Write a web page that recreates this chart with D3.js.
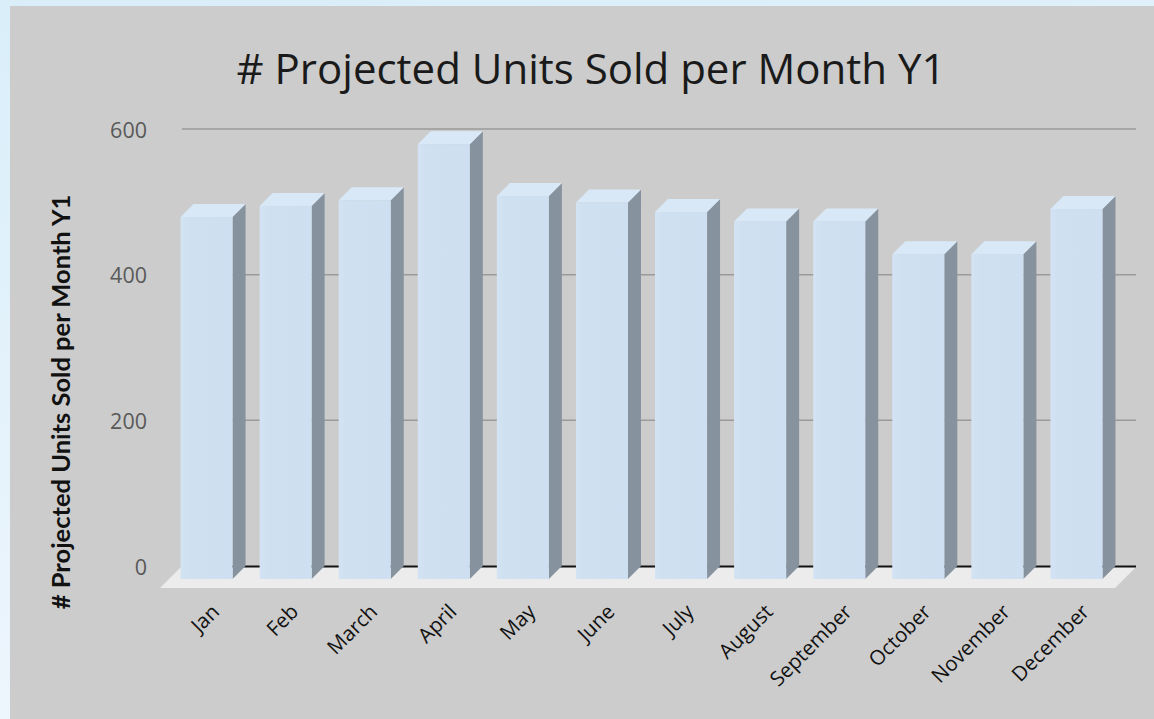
<!DOCTYPE html>
<html>
<head>
<meta charset="utf-8">
<script src="https://cdn.jsdelivr.net/npm/d3@7"></script>
<style>
  html, body { margin: 0; padding: 0; overflow: hidden; }
  svg { display: block; }
</style>
</head>
<body>
<svg id="chart" width="1154" height="719"></svg>
<script>
const months = ["Jan", "Feb", "March", "April", "May", "June", "July", "August", "September", "October", "November", "December"];
const unitsSold = [497, 512, 520, 597, 526, 517, 504, 491, 491, 446, 446, 508];
const yTicks = [0, 200, 400, 600];
const chartTitle = "# Projected Units Sold per Month Y1";
const yAxisTitle = "# Projected Units Sold per Month Y1";

const W = 1154, H = 719;
const svg = d3.select("#chart");
const defs = svg.append("defs");

const bgGrad = defs.append("linearGradient").attr("id", "bg").attr("x1", 0).attr("y1", 0).attr("x2", 0.3).attr("y2", 1);
bgGrad.append("stop").attr("offset", "0%").attr("stop-color", "#d9eef9");
bgGrad.append("stop").attr("offset", "100%").attr("stop-color", "#eff6fd");

const frontGrad = defs.append("linearGradient").attr("id", "front").attr("x1", 0).attr("y1", 0).attr("x2", 1).attr("y2", 0);
frontGrad.append("stop").attr("offset", "0%").attr("stop-color", "#d3e3f3");
frontGrad.append("stop").attr("offset", "15%").attr("stop-color", "#cfe0f1");
frontGrad.append("stop").attr("offset", "100%").attr("stop-color", "#cddff0");

svg.append("rect").attr("width", W).attr("height", H).attr("fill", "url(#bg)");
svg.append("rect").attr("x", 10).attr("y", 6).attr("width", W - 10).attr("height", H - 6).attr("fill", "#cccccc");

// 3D geometry
const depth = 13;       // bar depth offset (right / up)
const floorFront = 9;   // floor extends in front of the bars

const x = d3.scaleBand().domain(months).range([167, 1116]).paddingInner(0.342).paddingOuter(0.171);
const y = d3.scaleLinear().domain([0, 600]).range([579, 142]);

// Title
svg.append("text")
  .attr("x", 591).attr("y", 84)
  .attr("text-anchor", "middle")
  .attr("font-family", "'Open Sans', 'DejaVu Sans', sans-serif")
  .attr("font-size", 42)
  .attr("fill", "#1a1a1a")
  .text(chartTitle);

// Y axis title
svg.append("text")
  .attr("transform", "translate(70,402) rotate(-90)")
  .attr("text-anchor", "middle")
  .attr("font-family", "Lato, 'Open Sans', sans-serif")
  .attr("font-weight", "bold")
  .attr("font-size", 25.5)
  .attr("fill", "#111")
  .text(yAxisTitle);

// Back-wall gridlines
const gx0 = 182, gx1 = 1136;
svg.append("g").selectAll("line")
  .data(yTicks.filter(d => d > 0))
  .join("line")
  .attr("x1", gx0).attr("x2", gx1)
  .attr("y1", d => y(d) - depth).attr("y2", d => y(d) - depth)
  .attr("stroke", "#9a9a9a").attr("stroke-width", 1.5);

// Floor
const fy = y(0) + floorFront;
const fxl = x.range()[0] - 7, fxr = x.range()[1] - 1;
const back = floorFront + depth - 1;
svg.append("path")
  .attr("d", `M${fxl},${fy} L${fxr},${fy} L${fxr + back},${fy - back} L${fxl + back},${fy - back} Z`)
  .attr("fill", "#ececec");

// Zero line
svg.append("line")
  .attr("x1", gx0).attr("x2", gx1)
  .attr("y1", y(0) - depth + 0.5).attr("y2", y(0) - depth + 0.5)
  .attr("stroke", "#111").attr("stroke-width", 2);

// Y tick labels
svg.append("g").selectAll("text")
  .data(yTicks)
  .join("text")
  .attr("x", 147)
  .attr("y", d => y(d) - depth + 1)
  .attr("dy", "0.35em")
  .attr("text-anchor", "end")
  .attr("font-family", "'Open Sans', sans-serif")
  .attr("font-size", 21.5)
  .attr("fill", "#595959")
  .text(d => d);

// Bars
const bars = svg.append("g").selectAll("g")
  .data(months.map((m, i) => ({ m, v: unitsSold[i] })))
  .join("g");

const bw = x.bandwidth();
// side face
bars.append("path")
  .attr("d", d => {
    const x1 = x(d.m) + bw, yt = y(d.v), yb = y(0);
    return `M${x1},${yt} L${x1 + depth},${yt - depth} L${x1 + depth},${yb - depth} L${x1},${yb} Z`;
  })
  .attr("fill", "#86929e");
// top face
bars.append("path")
  .attr("d", d => {
    const x0 = x(d.m), yt = y(d.v);
    return `M${x0},${yt} L${x0 + bw},${yt} L${x0 + bw + depth},${yt - depth} L${x0 + depth},${yt - depth} Z`;
  })
  .attr("fill", "#d9e8f6");
// front face
bars.append("rect")
  .attr("x", d => x(d.m))
  .attr("y", d => y(d.v))
  .attr("width", bw)
  .attr("height", d => y(0) - y(d.v))
  .attr("fill", "url(#front)");

// X labels
svg.append("g").selectAll("text")
  .data(months)
  .join("text")
  .attr("transform", d => `translate(${x(d) + bw / 2 + 14},${613}) rotate(-45)`)
  .attr("text-anchor", "end")
  .attr("font-family", "'Open Sans', sans-serif")
  .attr("font-size", 20.5)
  .attr("fill", "#111")
  .text(d => d);
</script>
</body>
</html>
